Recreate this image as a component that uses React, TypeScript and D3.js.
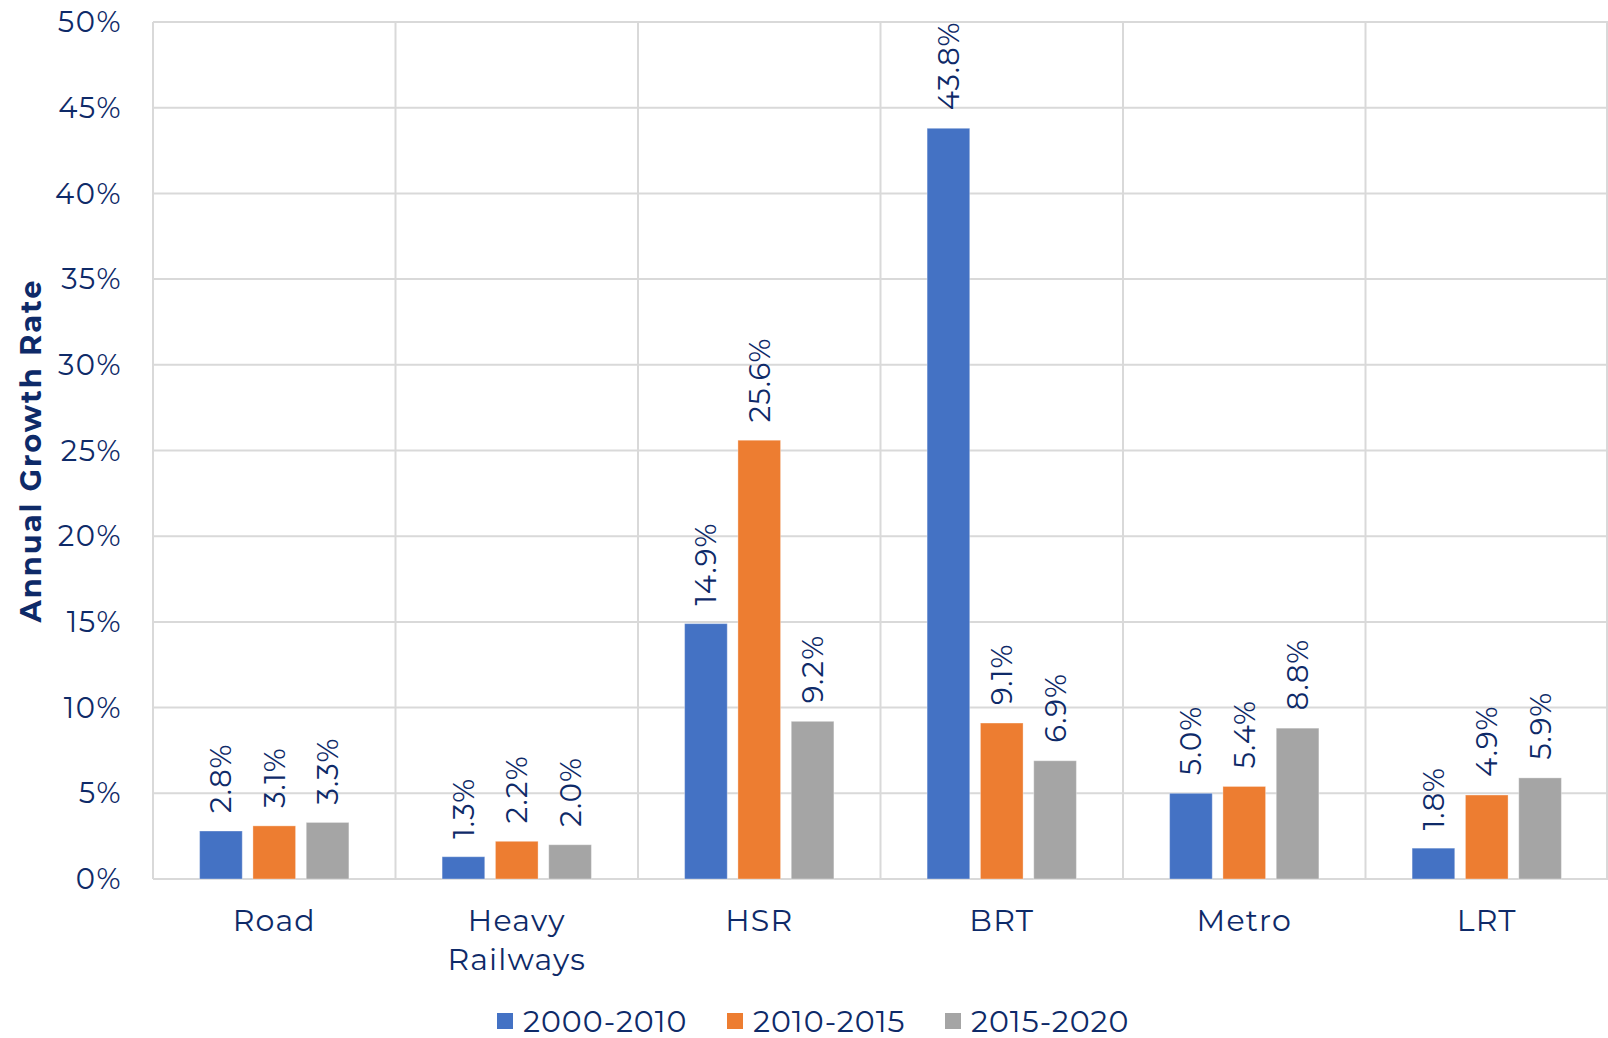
import React from "react";
import * as d3 from "d3";

// Annual growth rate of transport network length by mode and period
const categories: string[][] = [
  ["Road"],
  ["Heavy", "Railways"],
  ["HSR"],
  ["BRT"],
  ["Metro"],
  ["LRT"],
];
const periods = ["2000-2010", "2010-2015", "2015-2020"];
const growth2000_2010 = [2.8, 1.3, 14.9, 43.8, 5.0, 1.8];
const growth2010_2015 = [3.1, 2.2, 25.6, 9.1, 5.4, 4.9];
const growth2015_2020 = [3.3, 2.0, 9.2, 6.9, 8.8, 5.9];
const yTicks = [0, 5, 10, 15, 20, 25, 30, 35, 40, 45, 50];

const seriesValues = [growth2000_2010, growth2010_2015, growth2015_2020];
const colors = ["#4472C4", "#ED7D31", "#A5A5A5"];

const W = 1608;
const H = 1038;
const plot = { left: 153, right: 1608, top: 22, bottom: 879 };
const textColor = "#0E2A68";
const font = "Montserrat, Inter, 'Open Sans', sans-serif";

export default function App() {
  const keys = categories.map((c) => c.join(" "));
  const x = d3.scaleBand<string>().domain(keys).range([plot.left, plot.right]);
  const xInner = d3
    .scaleBand<string>()
    .domain(periods)
    .range([0, x.bandwidth()])
    .paddingInner(0.2)
    .paddingOuter(0.874);
  const y = d3.scaleLinear().domain([0, 50]).range([plot.bottom, plot.top]);

  const legendX = [497, 727, 945];

  return (
    <svg
      width={W}
      height={H}
      style={{ position: "absolute", left: 0, top: 0, background: "#fff" }}
      fontFamily={font}
    >
      {/* horizontal gridlines */}
      {yTicks.map((t) => (
        <line
          key={"h" + t}
          x1={plot.left}
          x2={plot.right}
          y1={y(t)}
          y2={y(t)}
          stroke="#D9D9D9"
          strokeWidth={2}
        />
      ))}
      {/* category separators */}
      {keys.map((k) => (
        <line
          key={"v" + k}
          x1={x(k)!}
          x2={x(k)!}
          y1={plot.top}
          y2={plot.bottom}
          stroke="#D9D9D9"
          strokeWidth={2}
        />
      ))}
      <line
        x1={plot.right - 1}
        x2={plot.right - 1}
        y1={plot.top}
        y2={plot.bottom}
        stroke="#D9D9D9"
        strokeWidth={2}
      />

      {/* y tick labels */}
      {yTicks.map((t) => (
        <text
          key={"t" + t}
          x={122}
          y={y(t)}
          dy="0.35em"
          textAnchor="end"
          fontSize={29}
          letterSpacing={1.5}
          fill={textColor}
        >
          {t + "%"}
        </text>
      ))}

      {/* y axis title */}
      <text
        transform={`translate(31,${(plot.top + plot.bottom) / 2}) rotate(-90)`}
        textAnchor="middle"
        dy="0.35em"
        fontSize={29}
        letterSpacing={2}
        fontWeight={700}
        fill={textColor}
      >
        Annual Growth Rate
      </text>

      {/* bars and value labels */}
      {keys.map((k, ci) =>
        periods.map((p, si) => {
          const v = seriesValues[si][ci];
          const bx = x(k)! + xInner(p)!;
          const bw = xInner.bandwidth();
          const cx = bx + bw / 2;
          const top = y(v);
          return (
            <g key={k + p}>
              <rect
                x={bx}
                y={top}
                width={bw}
                height={plot.bottom - top}
                fill={colors[si]}
                stroke="#fff"
                strokeOpacity={0.35}
                strokeWidth={1}
              />
              <text
                transform={`translate(${cx},${top - 18}) rotate(-90)`}
                dy="0.36em"
                textAnchor="start"
                fontSize={29}
                letterSpacing={1}
                fill={textColor}
              >
                {v.toFixed(1) + "%"}
              </text>
            </g>
          );
        })
      )}

      {/* category labels */}
      {categories.map((lines, ci) => (
        <text
          key={"c" + ci}
          x={x(keys[ci])! + x.bandwidth() / 2}
          y={920}
          textAnchor="middle"
          fontSize={30}
          letterSpacing={1.2}
          fill={textColor}
        >
          {lines.map((ln, li) => (
            <tspan
              key={li}
              x={x(keys[ci])! + x.bandwidth() / 2}
              y={920 + li * 39}
              dy="0.35em"
            >
              {ln}
            </tspan>
          ))}
        </text>
      ))}

      {/* legend */}
      {periods.map((p, i) => (
        <g key={"l" + p}>
          <rect x={legendX[i]} y={1013} width={16} height={16} fill={colors[i]} />
          <text
            x={legendX[i] + 26}
            y={1021}
            dy="0.35em"
            fontSize={30}
            letterSpacing={1}
            fill={textColor}
          >
            {p}
          </text>
        </g>
      ))}
    </svg>
  );
}
